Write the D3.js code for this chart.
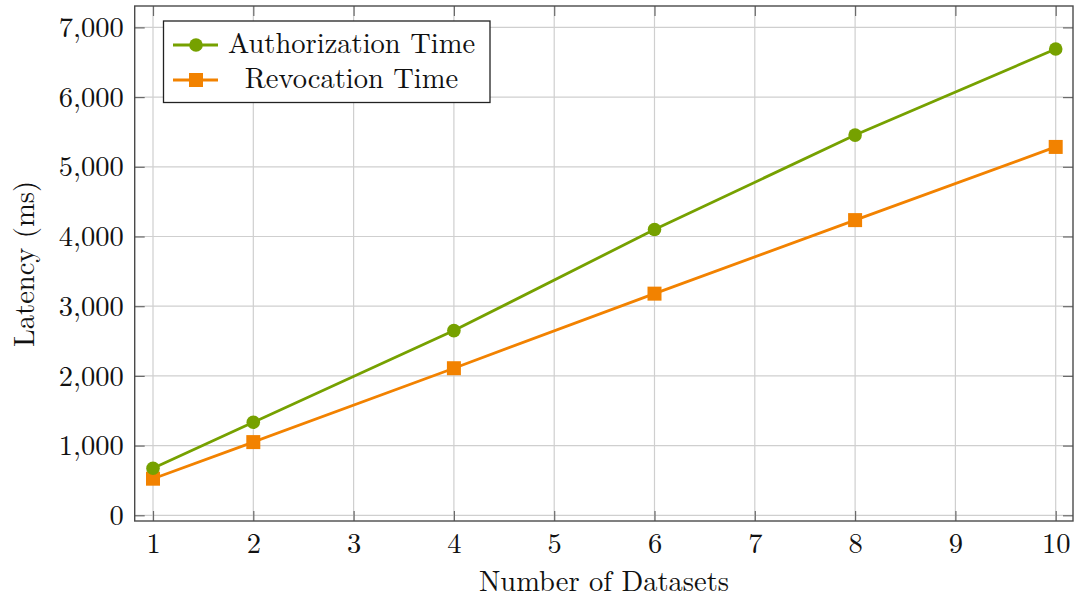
<!DOCTYPE html>
<html><head><meta charset="utf-8">
<script src="https://cdn.jsdelivr.net/npm/d3@7"></script>
<style>
body{margin:0;background:#fff;}
</style></head>
<body><svg id="c" width="1074" height="597"></svg>
<script>
const datasets = [1, 2, 4, 6, 8, 10];
const authTime = [675, 1335, 2650, 4100, 5455, 6690];
const revokeTime = [525, 1050, 2110, 3180, 4235, 5285];
const xTicks = [1,2,3,4,5,6,7,8,9,10];
const yTicks = [0,1000,2000,3000,4000,5000,6000,7000];
const seriesNames = ["Authorization Time", "Revocation Time"];

const FONT = '"Latin Modern Roman"';
const FS = "28.5px";
const svg = d3.select("#c");
const L=134.7, R=1073, T=6, B=521;
const x = d3.scaleLinear().domain([0.8175,10.1725]).range([L,R]);
const y = d3.scaleLinear().domain([-82,7307]).range([B,T]);
const green="#76a100", orange="#f28200";

// grid
const g = svg.append("g");
g.selectAll(".gx").data(xTicks).join("line")
 .attr("x1",d=>x(d)).attr("x2",d=>x(d)).attr("y1",T).attr("y2",B)
 .attr("stroke","#cfcfcf").attr("stroke-width",1.2);
g.selectAll(".gy").data(yTicks).join("line")
 .attr("y1",d=>y(d)).attr("y2",d=>y(d)).attr("x1",L).attr("x2",R)
 .attr("stroke","#cfcfcf").attr("stroke-width",1.2);

// axes with inward ticks
const tl = 10;
const fmt = d3.format(",");
const ax = svg.append("g").attr("transform",`translate(0,${B})`)
 .call(d3.axisBottom(x).tickValues(xTicks).tickSize(-tl).tickPadding(12).tickFormat(d3.format("d")));
const axT = svg.append("g").attr("transform",`translate(0,${T})`)
 .call(d3.axisTop(x).tickValues(xTicks).tickSize(-tl).tickFormat(""));
const ay = svg.append("g").attr("transform",`translate(${L},0)`)
 .call(d3.axisLeft(y).tickValues(yTicks).tickSize(-tl).tickPadding(11).tickFormat(fmt));
const ayR = svg.append("g").attr("transform",`translate(${R},0)`)
 .call(d3.axisRight(y).tickValues(yTicks).tickSize(-tl).tickFormat(""));
[ax,axT,ay,ayR].forEach(a=>{
  a.attr("font-family",null).attr("font-size",null);
  a.select(".domain").remove();
  a.selectAll(".tick line").attr("stroke","#6a6a6a").attr("stroke-width",1.2);
  a.selectAll("text").style("font-family",FONT).style("font-size",FS).attr("fill","#111");
});

// frame
svg.append("rect").attr("x",L).attr("y",T).attr("width",R-L).attr("height",B-T)
 .attr("fill","none").attr("stroke","#4a4a4a").attr("stroke-width",1.4);

// lines
const line = d3.line().x((d,i)=>x(datasets[i])).y(d=>y(d));
svg.append("path").datum(revokeTime).attr("d",line).attr("fill","none").attr("stroke",orange).attr("stroke-width",2.8);
svg.append("path").datum(authTime).attr("d",line).attr("fill","none").attr("stroke",green).attr("stroke-width",2.8);
svg.selectAll(".sq").data(revokeTime).join("rect")
 .attr("x",(d,i)=>x(datasets[i])-7).attr("y",d=>y(d)-7).attr("width",14).attr("height",14).attr("fill",orange);
svg.selectAll(".ci").data(authTime).join("circle")
 .attr("cx",(d,i)=>x(datasets[i])).attr("cy",d=>y(d)).attr("r",6.8).attr("fill",green);

// axis labels
svg.append("text").attr("x",604).attr("y",590.5).attr("text-anchor","middle").attr("fill","#111")
 .style("font-family",FONT).style("font-size",FS).text("Number of Datasets");
svg.append("text").attr("transform","translate(33.5,264) rotate(-90)").attr("text-anchor","middle").attr("fill","#111")
 .style("font-family",FONT).style("font-size",FS).text("Latency (ms)");

// legend
const lg = svg.append("g");
lg.append("rect").attr("x",163.5).attr("y",21).attr("width",326.5).attr("height",81.5)
 .attr("fill","#fff").attr("stroke","#222").attr("stroke-width",1.3);
const ly=[45,80];
const cols=[green,orange];
seriesNames.forEach((n,i)=>{
  lg.append("line").attr("x1",173).attr("x2",218).attr("y1",ly[i]).attr("y2",ly[i]).attr("stroke",cols[i]).attr("stroke-width",2.8);
  if(i===0) lg.append("circle").attr("cx",196).attr("cy",ly[i]).attr("r",6.8).attr("fill",cols[i]);
  else lg.append("rect").attr("x",189).attr("y",ly[i]-7).attr("width",14).attr("height",14).attr("fill",cols[i]);
  lg.append("text").attr("x",351.5).attr("y",ly[i]+7.5).attr("text-anchor","middle").attr("fill","#111")
    .style("font-family",FONT).style("font-size",FS).text(n);
});
</script></body></html>
